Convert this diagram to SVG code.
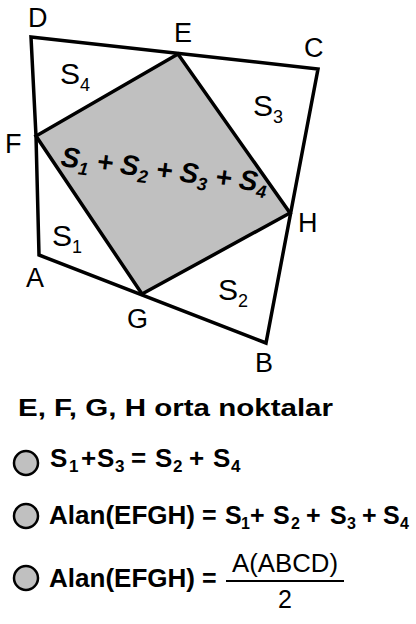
<svg xmlns="http://www.w3.org/2000/svg" width="416" height="624" viewBox="0 0 416 624">
<style>
text{font-family:"Liberation Sans",Arial,sans-serif;fill:#000}
.lbl{font-size:27px}
.s{font-size:30px}
.sub{font-size:18px}
.b{font-weight:bold}
.opt{fill:#c0c0c0;stroke:#000;stroke-width:2.5}
.edge{fill:none;stroke:#000;stroke-width:3.5;stroke-linejoin:miter}
</style>
<rect width="416" height="624" fill="#fff"/>
<g id="inner">
<polygon points="178,54 36,136 142,294 290,213" fill="#c0c0c0" stroke="#000" stroke-width="3.5" stroke-linejoin="miter"/>
</g>
<g id="outer">
<polygon class="edge" points="31,37 318,69 266,343 39,255 36,136"/>
</g>
<g id="labels">
<text class="lbl" x="28" y="27">D</text>
<text class="lbl" x="174" y="42">E</text>
<text class="lbl" x="304" y="57">C</text>
<text class="lbl" x="5" y="153">F</text>
<text class="lbl" x="298" y="232">H</text>
<text class="lbl" x="26" y="287">A</text>
<text class="lbl" x="127" y="328">G</text>
<text class="lbl" x="255" y="372">B</text>
</g>
<g id="areas">
<text class="s" x="60" y="84">S<tspan class="sub" dy="7">4</tspan></text>
<text class="s" x="253" y="116">S<tspan class="sub" dy="7">3</tspan></text>
<text class="s" x="52" y="246">S<tspan class="sub" dy="7">1</tspan></text>
<text class="s" x="218" y="300">S<tspan class="sub" dy="7">2</tspan></text>
</g>
<g id="center-sum" transform="rotate(7.3 60 166)">
<text x="60" y="166" font-size="28" font-weight="bold" font-style="italic" textLength="208" lengthAdjust="spacing">S<tspan font-size="18" dy="6">1</tspan><tspan dy="-6"> + S</tspan><tspan font-size="18" dy="6">2</tspan><tspan dy="-6"> + S</tspan><tspan font-size="18" dy="6">3</tspan><tspan dy="-6"> + S</tspan><tspan font-size="18" dy="6">4</tspan></text>
</g>
<g id="statement">
<text class="b" x="18" y="416" font-size="23" textLength="315" lengthAdjust="spacingAndGlyphs">E, F, G, H orta noktalar</text>
</g>
<g id="option1">
<circle class="opt" cx="26" cy="463" r="12"/>
<text class="b" font-size="26" y="467"><tspan x="50">S</tspan><tspan x="69" font-size="17" dy="5">1</tspan><tspan x="81" dy="-5">+</tspan><tspan x="97">S</tspan><tspan x="115" font-size="17" dy="5">3</tspan><tspan x="131" dy="-5">=</tspan><tspan x="155">S</tspan><tspan x="173" font-size="17" dy="5">2</tspan><tspan x="189" dy="-5">+</tspan><tspan x="213">S</tspan><tspan x="231" font-size="17" dy="5">4</tspan></text>
</g>
<g id="option2">
<circle class="opt" cx="26" cy="516" r="12"/>
<text class="b" font-size="25" y="524"><tspan x="49" textLength="146" lengthAdjust="spacingAndGlyphs">Alan(EFGH)</tspan><tspan x="202">=</tspan><tspan x="225">S</tspan><tspan x="241" font-size="16" dy="5">1</tspan><tspan x="250" dy="-5">+</tspan><tspan x="273">S</tspan><tspan x="291" font-size="16" dy="5">2</tspan><tspan x="306" dy="-5">+</tspan><tspan x="330">S</tspan><tspan x="347" font-size="16" dy="5">3</tspan><tspan x="362" dy="-5">+</tspan><tspan x="383">S</tspan><tspan x="400" font-size="16" dy="5">4</tspan></text>
</g>
<g id="option3">
<circle class="opt" cx="26" cy="578" r="12"/>
<text class="b" font-size="25" y="587"><tspan x="49" textLength="146" lengthAdjust="spacingAndGlyphs">Alan(EFGH)</tspan><tspan x="202">=</tspan></text>
<text font-size="25" x="232" y="572" textLength="106" lengthAdjust="spacingAndGlyphs">A(ABCD)</text>
<line x1="226" y1="581" x2="344" y2="581" stroke="#000" stroke-width="2"/>
<text font-size="25" x="278" y="608">2</text>
</g>
</svg>
